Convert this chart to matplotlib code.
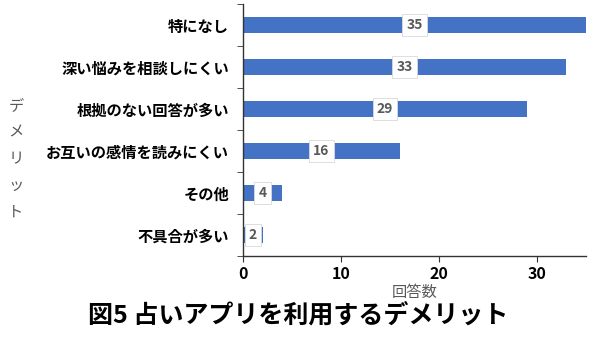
import matplotlib
matplotlib.use("Agg")
import matplotlib.pyplot as plt
import numpy as np

plt.rcParams['font.family'] = ['Noto Sans CJK JP', 'DejaVu Sans']

categories = ["特になし", "深い悩みを相談しにくい", "根拠のない回答が多い",
              "お互いの感情を読みにくい", "その他", "不具合が多い"]
values = [35, 33, 29, 16, 4, 2]
xticks = [0, 10, 20, 30]

fig = plt.figure(figsize=(6.0, 3.37), dpi=100)
ax = fig.add_axes([243 / 600, 1 - 256 / 337, (586 - 243) / 600, (256 - 4) / 337])

n = len(categories)
ypos = np.arange(n)[::-1]
ax.barh(ypos, values, height=0.4, color="#4472C4")

for y, v in zip(ypos, values):
    ax.text(v / 2, y, str(v), ha="center", va="center", fontsize=10,
            fontweight="bold", color="#595959",
            bbox=dict(boxstyle="square,pad=0.3", fc="white", ec="#d9d9d9", lw=0.6))

ax.set_xlim(0, 35)
ax.set_ylim(-0.5, n - 0.5)
ax.set_xticks(xticks)
ax.set_xticklabels([str(t) for t in xticks], fontsize=11.5, fontweight="bold")

# category labels at bar centres, tick marks at category boundaries
ax.set_yticks(ypos)
ax.set_yticklabels(categories, fontsize=11, fontweight="bold")
ax.tick_params(axis="y", which="major", length=0, pad=10)
ax.set_yticks(np.arange(-0.5, n, 1.0), minor=True)
ax.tick_params(axis="y", which="minor", length=4, color="#333333")
ax.tick_params(axis="x", length=4, color="#333333", pad=3)

for s in ["top", "right"]:
    ax.spines[s].set_visible(False)
for s in ["left", "bottom"]:
    ax.spines[s].set_color("#333333")
    ax.spines[s].set_linewidth(1.0)

ax.set_xlabel("回答数", fontsize=11, color="#595959", labelpad=2)

fig.text(16 / 600, 1 - 159 / 337, "\n".join("デメリット"), ha="center", va="center",
         fontsize=11, color="#595959", linespacing=1.75)

fig.text(298 / 600, 1 - 315 / 337, "図5 占いアプリを利用するデメリット",
         ha="center", va="center", fontsize=18, fontweight="bold", color="black")

fig.savefig("out.png", dpi=100)
